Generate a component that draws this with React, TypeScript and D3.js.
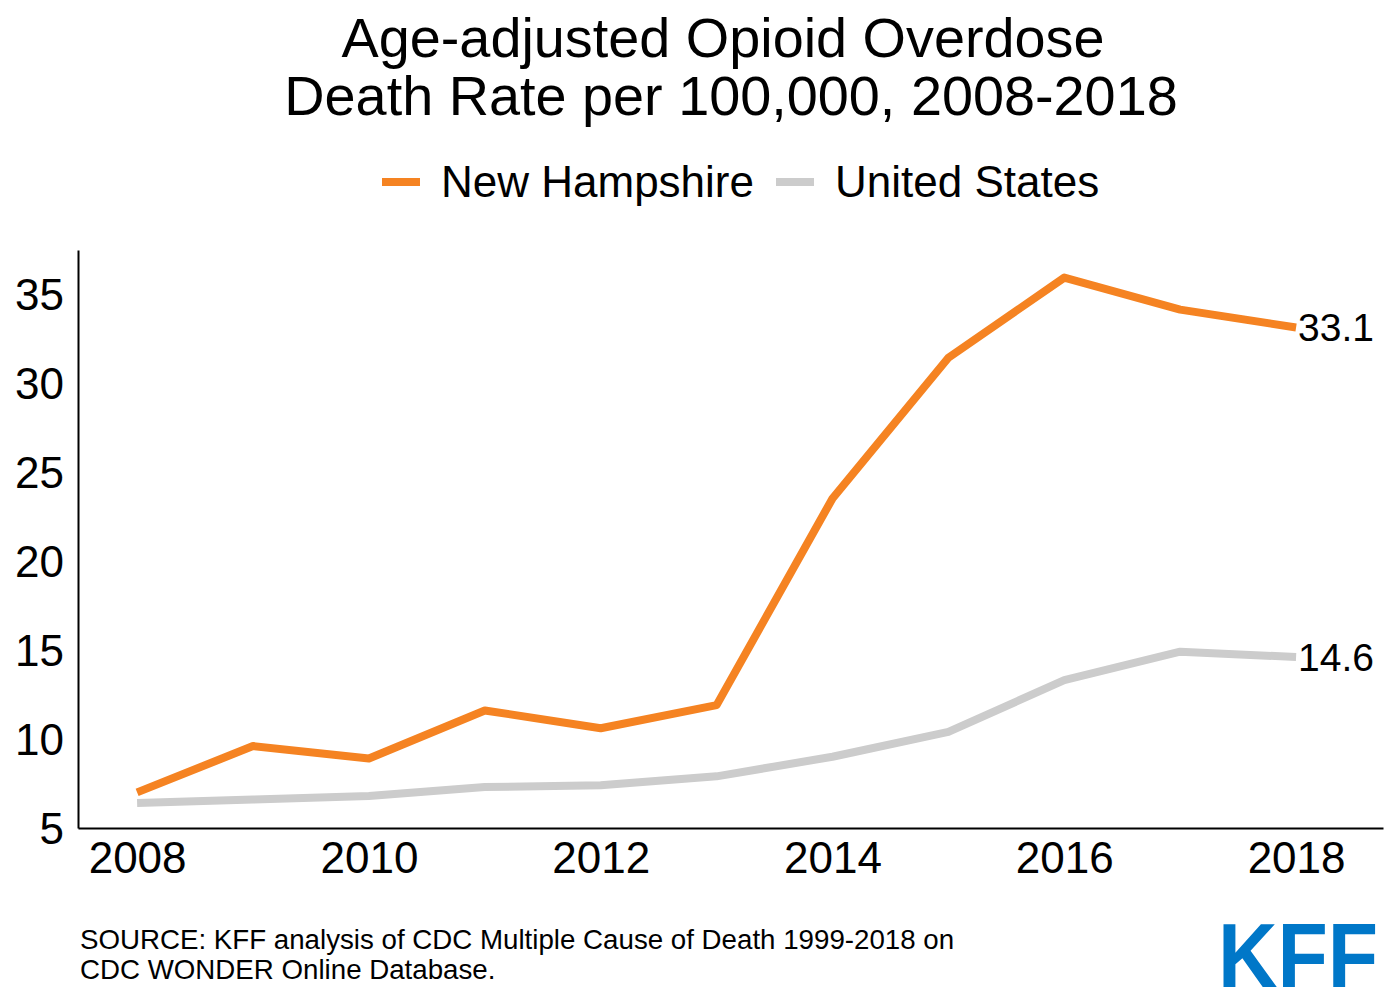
import { useEffect, useRef } from 'react'
import * as d3 from 'd3'

const years = [2008, 2009, 2010, 2011, 2012, 2013, 2014, 2015, 2016, 2017, 2018]
const newHampshire = [7.0, 9.6, 8.9, 11.6, 10.6, 11.9, 23.5, 31.4, 35.9, 34.1, 33.1]
const unitedStates = [6.4, 6.6, 6.8, 7.3, 7.4, 7.9, 9.0, 10.4, 13.3, 14.9, 14.6]
const yTicks = [5, 10, 15, 20, 25, 30, 35]
const xTicks = [2008, 2010, 2012, 2014, 2016, 2018]
const seriesNames = ['New Hampshire', 'United States']
const seriesColors = ['#F58322', '#CCCCCC']

const FONT = '"Liberation Sans", Arial, Helvetica, sans-serif'

export default function App() {
  const svgRef = useRef<SVGSVGElement>(null)

  useEffect(() => {
    if (!svgRef.current) return
    const svg = d3.select(svgRef.current)
    svg.selectAll('*').remove()

    const width = 1400
    const height = 1000
    const margin = { top: 250, right: 17, bottom: 172, left: 78 }

    svg.append('rect').attr('width', width).attr('height', height).attr('fill', '#fff')

    const x = d3.scaleLinear()
      .domain([2007.49, 2018.75])
      .range([margin.left, width - margin.right])

    const y = d3.scaleLinear()
      .domain([5, 37.45])
      .range([height - margin.bottom, margin.top])

    // Title
    const title = svg.append('text')
      .attr('text-anchor', 'middle')
      .attr('font-family', FONT)
      .attr('font-size', 55.8)
      .attr('fill', '#000')
    title.append('tspan').attr('x', 723).attr('y', 57).text('Age-adjusted Opioid Overdose')
    title.append('tspan').attr('x', 731).attr('y', 115).text('Death Rate per 100,000, 2008-2018')

    // Legend
    const legendItems = [
      { name: seriesNames[0], color: seriesColors[0], x: 382 },
      { name: seriesNames[1], color: seriesColors[1], x: 776 },
    ]
    legendItems.forEach(item => {
      svg.append('line')
        .attr('x1', item.x).attr('x2', item.x + 38)
        .attr('y1', 182).attr('y2', 182)
        .attr('stroke', item.color)
        .attr('stroke-width', 8)
      svg.append('text')
        .attr('x', item.x + 59)
        .attr('y', 197)
        .attr('font-family', FONT)
        .attr('font-size', 44)
        .attr('fill', '#000')
        .text(item.name)
    })

    // Axes
    const yAxis = svg.append('g')
      .attr('transform', `translate(${margin.left},0)`)
      .call(d3.axisLeft(y).tickValues(yTicks).tickSize(0).tickPadding(14).tickFormat(d3.format('d')))
    yAxis.select('.domain').attr('stroke', '#000').attr('stroke-width', 2)
    yAxis.selectAll('text')
      .attr('font-family', FONT)
      .attr('font-size', 44)
      .attr('fill', '#000')
      .attr('dy', '0.35em')

    const xAxis = svg.append('g')
      .attr('transform', `translate(0,${height - margin.bottom})`)
      .call(d3.axisBottom(x).tickValues(xTicks).tickSize(0).tickPadding(14).tickFormat(d3.format('d')))
    xAxis.select('.domain').attr('stroke', '#000').attr('stroke-width', 2)
    xAxis.selectAll('text')
      .attr('font-family', FONT)
      .attr('font-size', 44)
      .attr('fill', '#000')

    // Lines
    const line = d3.line<number>()
      .x((_, i) => x(years[i]))
      .y(d => y(d))

    const allSeries = [unitedStates, newHampshire]
    const allColors = [seriesColors[1], seriesColors[0]]
    allSeries.forEach((values, i) => {
      svg.append('path')
        .datum(values)
        .attr('d', line)
        .attr('fill', 'none')
        .attr('stroke', allColors[i])
        .attr('stroke-width', 8)
        .attr('stroke-linejoin', 'round')
    })

    // End labels
    const lastIdx = years.length - 1
    ;[newHampshire, unitedStates].forEach(values => {
      svg.append('text')
        .attr('x', x(years[lastIdx]) + 2)
        .attr('y', y(values[lastIdx]))
        .attr('dy', '0.35em')
        .attr('font-family', FONT)
        .attr('font-size', 39)
        .attr('fill', '#000')
        .text(values[lastIdx].toFixed(1))
    })

    // Source
    const src = svg.append('text')
      .attr('font-family', FONT)
      .attr('font-size', 27.7)
      .attr('fill', '#000')
    src.append('tspan').attr('x', 80).attr('y', 949).text('SOURCE: KFF analysis of CDC Multiple Cause of Death 1999-2018 on')
    src.append('tspan').attr('x', 80).attr('y', 979).text('CDC WONDER Online Database.')

    // Logo
    svg.append('text')
      .attr('transform', 'translate(1218,987) scale(1.03,1.14)')
      .attr('font-family', FONT)
      .attr('font-weight', 'bold')
      .attr('font-size', 80)
      .attr('fill', '#0077C8')
      .text('KFF')
  }, [])

  return (
    <svg ref={svgRef} width={1400} height={1000} style={{ display: 'block', margin: '-8px' }} />
  )
}
